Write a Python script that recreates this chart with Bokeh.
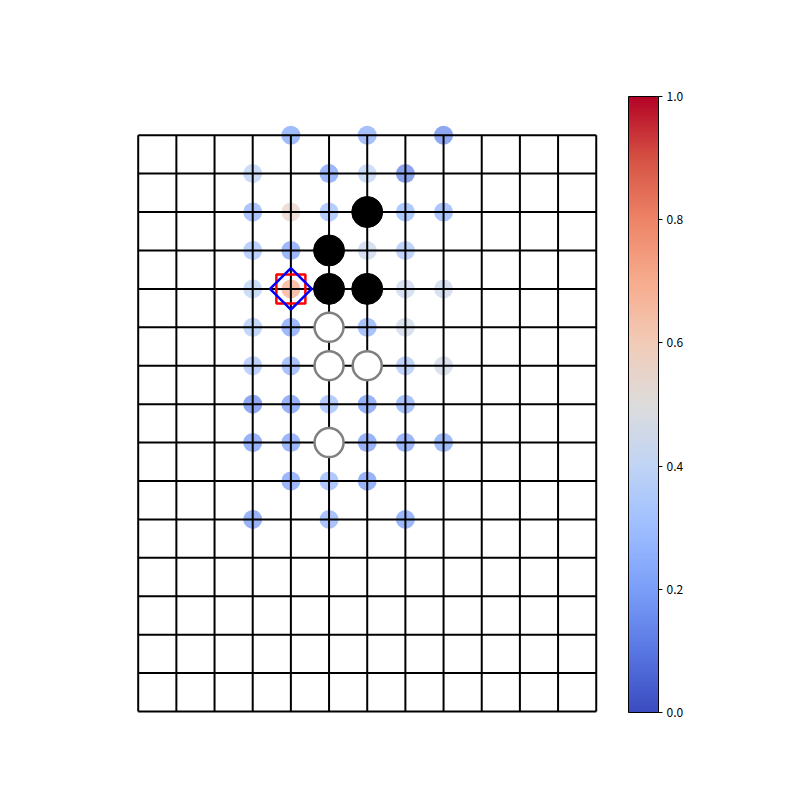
import numpy as np
from bokeh.plotting import figure
from bokeh.models import (ColumnDataSource, LinearColorMapper, ColorBar, FixedTicker,
                          PrintfTickFormatter, Range1d)
from bokeh.embed import file_html
from bokeh.resources import INLINE

# ---------------- data ----------------
n_cols = 13          # vertical lines (x = 0..12)
n_rows = 16          # horizontal lines (y = 0..15, top to bottom)

dot_x = [4, 6, 8,
         3, 5, 6, 7,
         3, 4, 5, 7, 8,
         3, 4, 6, 7,
         3, 4, 7, 8,
         3, 4, 6, 7,
         3, 4, 7, 8,
         3, 4, 5, 6, 7,
         3, 4, 6, 7, 8,
         4, 5, 6,
         3, 5, 7]
dot_y = [0, 0, 0,
         1, 1, 1, 1,
         2, 2, 2, 2, 2,
         3, 3, 3, 3,
         4, 4, 4, 4,
         5, 5, 5, 5,
         6, 6, 6, 6,
         7, 7, 7, 7, 7,
         8, 8, 8, 8, 8,
         9, 9, 9,
         10, 10, 10]
dot_v = [0.22, 0.24, 0.15,
         0.38, 0.20, 0.40, 0.14,
         0.26, 0.55, 0.30, 0.28, 0.26,
         0.32, 0.20, 0.43, 0.34,
         0.38, 0.70, 0.43, 0.43,
         0.35, 0.21, 0.25, 0.45,
         0.33, 0.25, 0.34, 0.45,
         0.15, 0.19, 0.30, 0.19, 0.25,
         0.19, 0.20, 0.19, 0.20, 0.22,
         0.20, 0.28, 0.19,
         0.19, 0.25, 0.20]

black_x = [6, 5, 5, 6]
black_y = [2, 3, 4, 4]
white_x = [5, 5, 6, 5]
white_y = [5, 6, 6, 8]

mark_x = [4]
mark_y = [4]

cbar_ticks = [0.0, 0.2, 0.4, 0.6, 0.8, 1.0]

# ---------------- colormap (coolwarm) ----------------
anchors = ["#3b4cc0", "#5977e3", "#7b9ff9", "#9ebeff", "#c0d4f5", "#dddcdc",
           "#f2cbb7", "#f7ac8e", "#ee8468", "#d65244", "#b40426"]
arr = np.array([[int(c[i:i + 2], 16) for i in (1, 3, 5)] for c in anchors], float)
pos = np.linspace(0, 1, len(anchors))
t = np.linspace(0, 1, 256)
rgb = np.stack([np.interp(t, pos, arr[:, k]) for k in range(3)], axis=1)
coolwarm = ["#%02x%02x%02x" % tuple(int(round(v)) for v in row) for row in rgb]

mapper = LinearColorMapper(palette=coolwarm, low=0, high=1)

# ---------------- figure ----------------
W, H = 784, 784
sx = 38.17
sy = 38.42
x0 = -137.7 / sx
y0 = -134.7 / sy
p = figure(width=W, height=H, output_backend="svg", toolbar_location=None,
           x_axis_location=None, y_axis_location=None,
           x_range=Range1d(x0, x0 + W / sx),
           y_range=Range1d(y0 + H / sy, y0),
           min_border=0, min_border_left=0, min_border_right=0,
           min_border_top=0, min_border_bottom=0)
p.outline_line_color = None
p.grid.visible = False
p.background_fill_color = "white"
p.border_fill_color = "white"

# candidate dots (under the grid lines)
dots = ColumnDataSource(dict(x=dot_x, y=dot_y, v=dot_v))
p.scatter("x", "y", source=dots, size=19, line_color=None,
          fill_color={"field": "v", "transform": mapper}, fill_alpha=0.75)

# board lines
cols = list(range(n_cols))
rows = list(range(n_rows))
p.segment(x0=cols, y0=[0] * n_cols, x1=cols, y1=[n_rows - 1] * n_cols,
          line_color="black", line_width=2)
p.segment(x0=[0] * n_rows, y0=rows, x1=[n_cols - 1] * n_rows, y1=rows,
          line_color="black", line_width=2)

# stones
p.scatter(black_x, black_y, size=31, fill_color="black", line_color="black", line_width=1)
p.scatter(white_x, white_y, size=29, fill_color="white", line_color="gray", line_width=2.5)

# markers
p.scatter(mark_x, mark_y, marker="square", size=29, fill_color=None,
          line_color="red", line_width=2.5)
p.scatter(mark_x, mark_y, marker="square", size=29.5, angle=np.pi / 4, fill_color=None,
          line_color="blue", line_width=2.5)

# colorbar
cb = ColorBar(color_mapper=mapper, orientation="vertical", width=30, height=616,
              location=(628, 72), padding=0, margin=0,
              ticker=FixedTicker(ticks=cbar_ticks),
              formatter=PrintfTickFormatter(format="%.1f"),
              major_tick_in=0, major_tick_out=4, major_tick_line_color="black",
              minor_tick_line_color=None,
              bar_line_color="black", bar_line_width=1,
              border_line_color=None, background_fill_alpha=0,
              label_standoff=4,
              major_label_text_font="Noto Sans CJK SC",
              major_label_text_font_size="12px",
              major_label_text_color="black")
p.add_layout(cb, "center")

open("out.html", "w").write(file_html(p, INLINE))
